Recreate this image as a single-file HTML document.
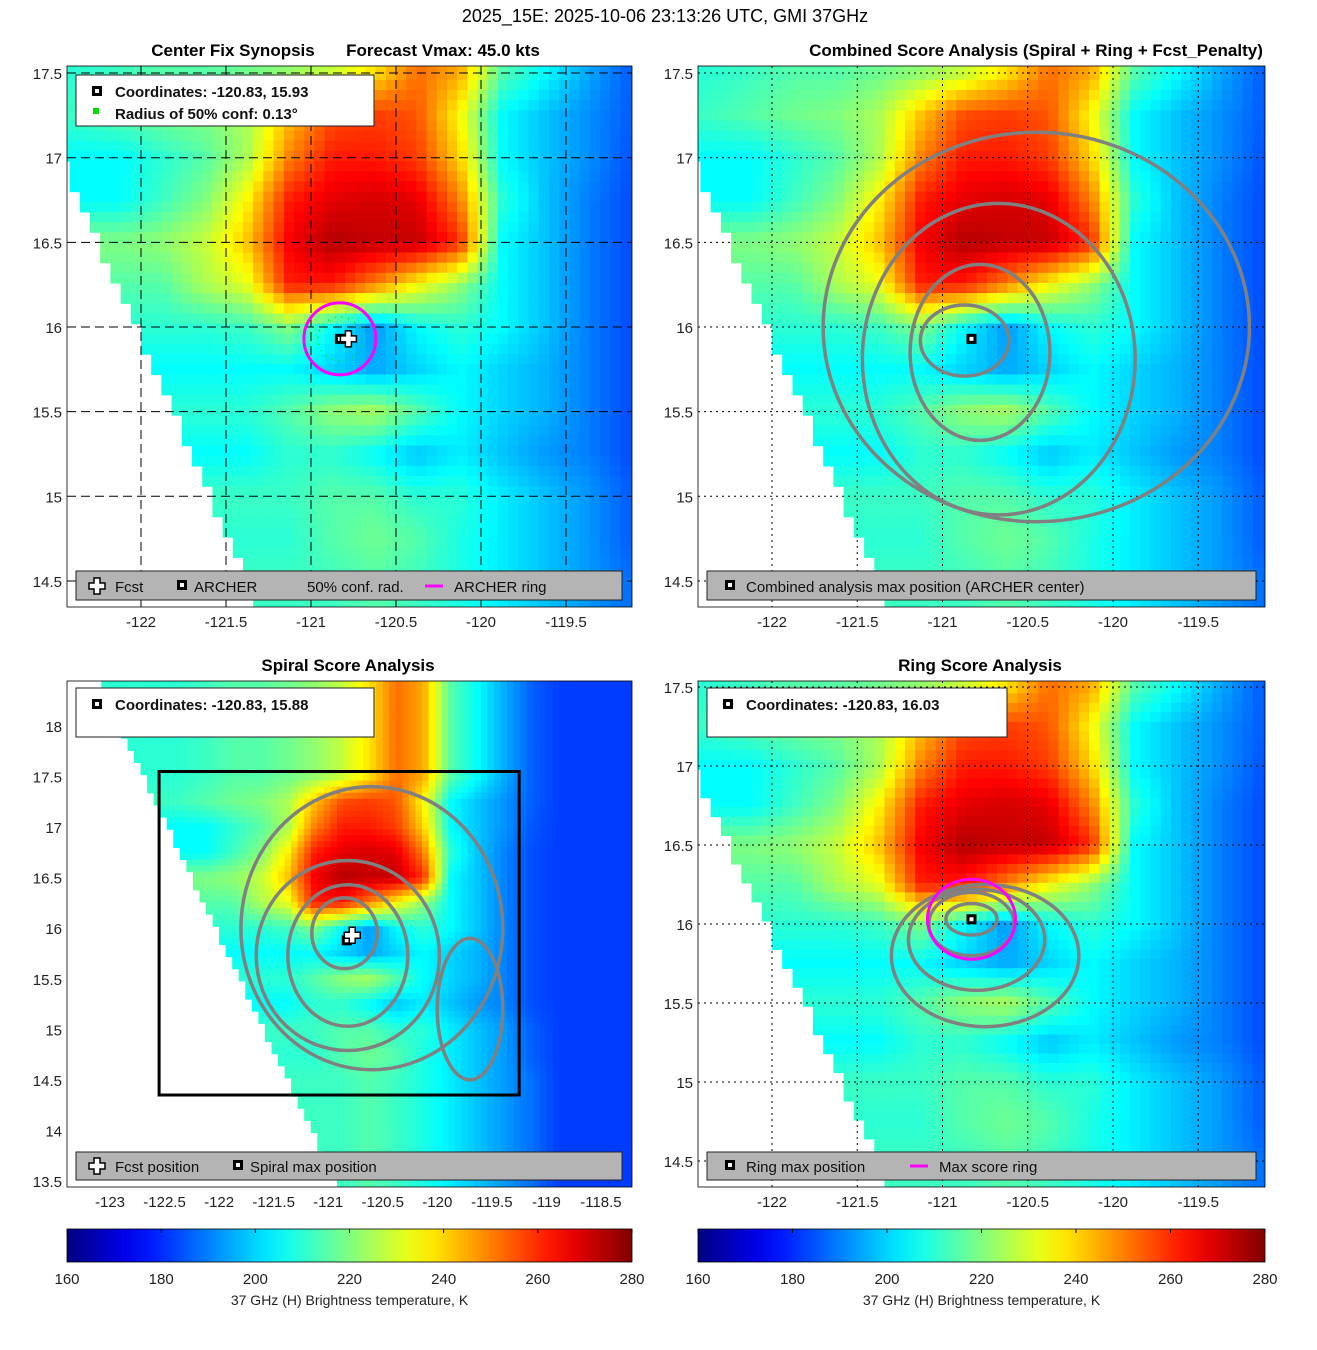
<!DOCTYPE html>
<html><head><meta charset="utf-8"><style>
body{margin:0;background:#fff;}
svg{display:block;font-family:"Liberation Sans","DejaVu Sans",sans-serif;}
</style></head><body>
<svg id="s" width="1317" height="1350" xmlns="http://www.w3.org/2000/svg">
<text x="665" y="22" font-size="18" text-anchor="middle">2025_15E: 2025-10-06 23:13:26 UTC, GMI 37GHz</text>
</svg>
<script>
// Brightness temperature grid (K): rows lat 17.5 -> 14.5 step 0.25, cols lon -122.375 -> -119.125 step 0.25
const gridLats=[17.5,17.25,17.0,16.75,16.5,16.25,16.0,15.75,15.5,15.25,15.0,14.75,14.5];
const gridLon0=-122.375, gridStep=0.25;
const tbGrid=[
[210,212,215,215,218,222,228,238,252,245,215,205,195,186],
[212,215,218,220,225,242,256,258,255,235,205,198,192,186],
[205,205,210,215,225,250,262,262,258,240,205,198,192,185],
[205,205,212,220,236,262,268,270,268,250,210,198,190,184],
[220,220,222,228,242,266,274,272,272,260,205,198,190,184],
[215,215,215,225,232,262,262,250,235,222,205,198,190,184],
[210,210,210,210,212,220,205,193,205,210,205,198,190,184],
[205,205,205,205,205,205,200,195,200,205,200,196,190,184],
[210,210,210,210,210,215,222,225,215,205,200,196,190,184],
[205,205,205,205,205,210,210,205,198,203,198,193,190,184],
[212,212,212,212,212,212,215,215,210,210,203,198,193,186],
[210,210,210,210,210,210,215,218,215,208,203,198,193,186],
[212,212,212,212,212,212,212,215,212,208,203,198,193,188]];
const cbTicks=[160,180,200,220,240,260,280];
// contours (lon, lat, rx deg, ry deg)
const contoursTR=[[-120.87,15.92,0.26,0.21],[-120.78,15.85,0.41,0.52],[-120.67,15.81,0.8,0.92],[-120.45,16.0,1.25,1.15]];
const contoursBL=[[-120.85,15.95,0.3,0.35],[-120.82,15.73,0.55,0.7],[-120.82,15.73,0.84,0.94],[-120.6,16.0,1.2,1.4],[-119.7,15.2,0.3,0.7]];
const contoursBR=[[-120.83,16.03,0.15,0.1],[-120.83,16.0,0.25,0.2],[-120.8,15.9,0.4,0.32],[-120.75,15.8,0.55,0.45]];

const S=document.getElementById('s');const NS='http://www.w3.org/2000/svg';
function el(t,a,p){const e=document.createElementNS(NS,t);for(const k in a)e.setAttribute(k,a[k]);(p||S).appendChild(e);return e;}
function jet(v){let t=(v-160)/120;t=Math.max(0,Math.min(1,t));const c=x=>Math.round(255*Math.max(0,Math.min(1,1.5-Math.abs(4*t-x))));return `rgb(${c(3)},${c(2)},${c(1)})`;}
function edge(lat){return -122.25+(16.5-lat)*0.44;}
function gv(i,j){j=Math.max(0,Math.min(12,j));if(i>13)return 182;if(i<0)i=0;return tbGrid[j][i];}
function tb(lon,lat){if(lon<edge(lat))return null;
 const fi=(lon-gridLon0)/gridStep, fj=(17.5-lat)/0.25;const i=Math.floor(fi),j=Math.floor(fj),a=fi-i,b=fj-j;
 return (gv(i,j)*(1-a)+gv(i+1,j)*a)*(1-b)+(gv(i,j+1)*(1-a)+gv(i+1,j+1)*a)*b;}

function panel(cfg){
 const {id,x0,x1,y0,y1,X,Y,xt,yt,title,dash}=cfg;
 const g=el('g',{});
 const cp=el('clipPath',{id:id+'-clip'},g);el('rect',{x:x0,y:y0,width:x1-x0,height:y1-y0},cp);
 const hm=el('g',{'clip-path':`url(#${id}-clip)`,},g);
 const st=cfg.cell||0.06;
 for(let lon=-123.5;lon<-118;lon+=st){for(let lat=18.6;lat>13.3;lat-=st){
   const v=tb(lon+st/2,lat-st/2);if(v===null)continue;
   const xa=X(lon),xb=X(lon+st),ya=Y(lat),yb=Y(lat-st);
   if(xb<x0||xa>x1||yb<y0||ya>y1)continue;
   const r=el('rect',{x:xa.toFixed(1),y:ya.toFixed(1),width:(xb-xa+0.6).toFixed(1),height:(yb-ya+0.6).toFixed(1),fill:jet(v)},hm);
   
   
 }}
 const gg=el('g',{'clip-path':`url(#${id}-clip)`,stroke:'#000','stroke-width':1,'stroke-dasharray':dash,},g);
 if(dash){xt.forEach(v=>el('line',{x1:X(v),x2:X(v),y1:y0,y2:y1},gg));
 yt.forEach(v=>el('line',{x1:x0,x2:x1,y1:Y(v),y2:Y(v)},gg));}
 const cg=el('g',{'clip-path':`url(#${id}-clip)`,fill:'none',stroke:'#808080','stroke-width':3.5,},g);
 (cfg.contours||[]).forEach(c=>{const e=el('ellipse',{cx:X(c[0]),cy:Y(c[1]),rx:Math.abs(X(c[0]+c[2])-X(c[0])),ry:Math.abs(Y(c[1]+c[3])-Y(c[1]))},cg);});
 el('rect',{x:x0,y:y0,width:x1-x0,height:y1-y0,fill:'none',stroke:'#000','stroke-width':0.8,},g);
 const tg=el('g',{'font-size':15,fill:'#222',},g);
 xt.forEach(v=>{const t=el('text',{x:X(v),y:y1+20,'text-anchor':'middle'},tg);t.textContent=v;});
 yt.forEach(v=>{const t=el('text',{x:x0-5,y:Y(v)+6,'text-anchor':'end'},tg);t.textContent=v;});
 title.forEach(t=>{const e=el('text',{x:t[0],y:y0-10,'font-size':17,'font-weight':'bold','text-anchor':'middle',},g);e.textContent=t[1];});
 return g;
}
function sq(g,x,y){el('rect',{x:x-5,y:y-5,width:10,height:10,fill:'#000'},g);el('rect',{x:x-2,y:y-2,width:4,height:4,fill:'#fff'},g);}
function cross(g,x,y){el('path',{d:`M${x-3},${y-8}h6v5h5v6h-5v5h-6v-5h-5v-6h5z`,fill:'#fff',stroke:'#000','stroke-width':1.5},g);}
function box(g,x,y,w,h,fill,name){const r=el('rect',{x,y,width:w,height:h,fill,stroke:'#222','stroke-width':1},g);}
function txt(g,x,y,s,bold,name){const t=el('text',{x,y,'font-size':15,'font-weight':bold?'bold':'normal',fill:'#111'},g);t.textContent=s;}

const XA=l=>141+(l+122)*170, XB=l=>772+(l+122)*170.5, YT=a=>327-(a-16)*169.3;
const XC=l=>110+(l+123)*109.1, YC=a=>726-(a-18)*101.1, YD=a=>924-(a-16)*158;
const xt1=[-122,-121.5,-121,-120.5,-120,-119.5], yt1=[14.5,15,15.5,16,16.5,17,17.5];

const p1=panel({id:'center-fix-panel',x0:67,x1:632,y0:66,y1:607,X:XA,Y:YT,xt:xt1,yt:yt1,dash:'9,5',title:[[233,'Center Fix Synopsis'],[443,'Forecast Vmax: 45.0 kts']]});
el('circle',{cx:XA(-120.83),cy:YT(15.93),r:36,fill:'none',stroke:'#ff00ff','stroke-width':3,},p1);
el('circle',{cx:XA(-120.83),cy:YT(15.93),r:22,fill:'none',stroke:'#00dd00','stroke-width':1.5,'stroke-dasharray':'1,6',},p1);
sq(p1,XA(-120.83),YT(15.93));cross(p1,XA(-120.78),YT(15.93));
box(p1,76,75,298,51,'#fff','info-box');
sq(p1,97,91);txt(p1,115,97,'Coordinates: -120.83, 15.93',true,'coordinates-label');
el('rect',{x:93,y:108,width:6,height:6,fill:'#00e000'},p1);txt(p1,115,119,'Radius of 50% conf: 0.13°',true,'radius-label');
box(p1,76,571,546,29,'#b4b4b4','legend');
cross(p1,97,586);txt(p1,115,592,'Fcst',false,'legend-fcst');sq(p1,182,585);txt(p1,194,592,'ARCHER',false,'legend-archer');
txt(p1,307,592,'50% conf. rad.',false,'legend-conf');el('line',{x1:425,x2:443,y1:586,y2:586,stroke:'#ff00ff','stroke-width':3},p1);txt(p1,454,592,'ARCHER ring',false,'legend-ring');

const p2=panel({id:'combined-score-panel',x0:698,x1:1265,y0:66,y1:607,X:XB,Y:YT,xt:xt1,yt:yt1,dash:'2,4',contours:contoursTR,title:[[1036,'Combined Score Analysis (Spiral + Ring + Fcst_Penalty)']]});
sq(p2,XB(-120.83),YT(15.93));
box(p2,707,571,549,29,'#b4b4b4','legend');sq(p2,730,585);txt(p2,746,592,'Combined analysis max position (ARCHER center)',false,'legend-combined');

const p3=panel({id:'spiral-score-panel',x0:67,x1:632,y0:681,y1:1187,X:XC,Y:YC,xt:[-123,-122.5,-122,-121.5,-121,-120.5,-120,-119.5,-119,-118.5],yt:[13.5,14,14.5,15,15.5,16,16.5,17,17.5,18],dash:null,cell:0.06,contours:contoursBL,title:[[348,'Spiral Score Analysis']]});
el('rect',{x:XC(-122.55),y:YC(17.55),width:XC(-119.25)-XC(-122.55),height:YC(14.35)-YC(17.55),fill:'none',stroke:'#000','stroke-width':3,},p3);
sq(p3,XC(-120.83),YC(15.88));cross(p3,XC(-120.78),YC(15.93));
box(p3,76,688,298,49,'#fff','info-box');sq(p3,97,704);txt(p3,115,710,'Coordinates: -120.83, 15.88',true,'coordinates-label');
box(p3,76,1152,546,28,'#b4b4b4','legend');cross(p3,97,1166);txt(p3,115,1172,'Fcst position',false,'legend-fcst');sq(p3,238,1165);txt(p3,250,1172,'Spiral max position',false,'legend-spiral');

const p4=panel({id:'ring-score-panel',x0:698,x1:1265,y0:681,y1:1187,X:XB,Y:YD,xt:xt1,yt:yt1,dash:'2,4',contours:contoursBR,title:[[980,'Ring Score Analysis']]});
el('ellipse',{cx:XB(-120.83),cy:YD(16.03),rx:44,ry:40,fill:'none',stroke:'#ff00ff','stroke-width':3,},p4);
sq(p4,XB(-120.83),YD(16.03));
box(p4,707,688,300,49,'#fff','info-box');sq(p4,728,704);txt(p4,746,710,'Coordinates: -120.83, 16.03',true,'coordinates-label');
box(p4,707,1152,549,28,'#b4b4b4','legend');sq(p4,730,1165);txt(p4,746,1172,'Ring max position',false,'legend-ring-max');
el('line',{x1:910,x2:928,y1:1166,y2:1166,stroke:'#ff00ff','stroke-width':3},p4);txt(p4,939,1172,'Max score ring',false,'legend-max-ring');

const defs=el('defs',{});const lg=el('linearGradient',{id:'jetg',x1:0,x2:1,y1:0,y2:0},defs);
for(let i=0;i<=20;i++){el('stop',{offset:i/20,'stop-color':jet(160+i*6)},lg);}
[[67,632,'colorbar-left'],[698,1265,'colorbar-right']].forEach(([a,b,n])=>{
 const g=el('g',{});
 el('rect',{x:a,y:1229,width:b-a,height:33,fill:'url(#jetg)',stroke:'#000','stroke-width':0.8},g);
 cbTicks.forEach(v=>{const x=a+(v-160)/120*(b-a);el('line',{x1:x,x2:x,y1:1229,y2:1233,stroke:'#000'},g);const t=el('text',{x,y:1284,'font-size':15,'text-anchor':'middle',fill:'#222'},g);t.textContent=v;});
 const t=el('text',{x:(a+b)/2,y:1305,'font-size':14,'text-anchor':'middle',fill:'#222'},g);t.textContent='37 GHz (H) Brightness temperature, K';
});
</script>
</body></html>
